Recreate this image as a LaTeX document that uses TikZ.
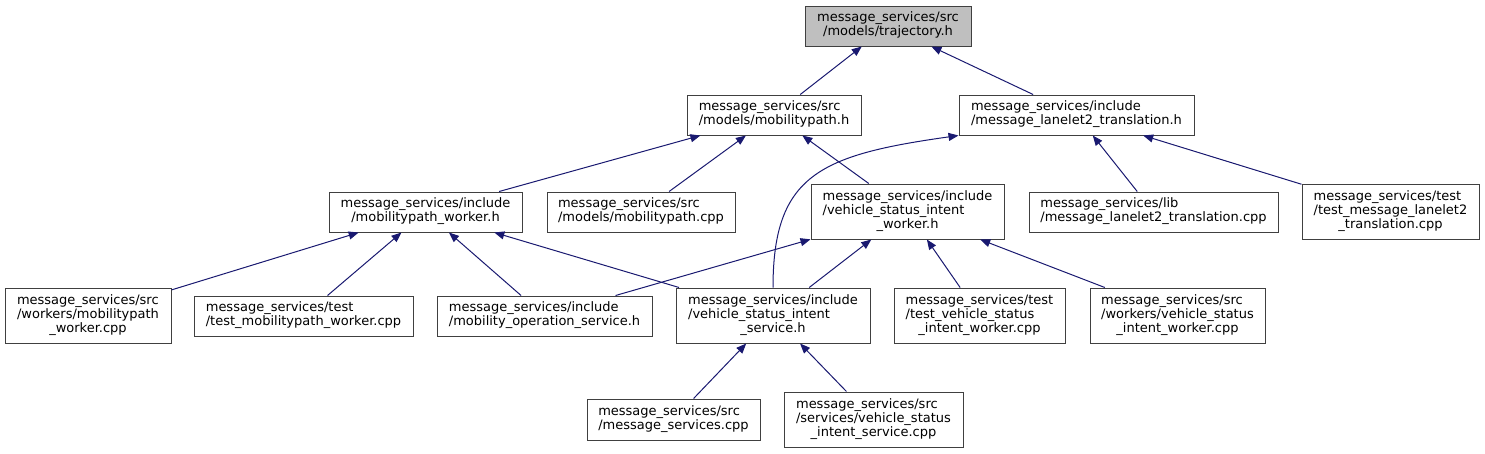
\documentclass[tikz,border=0pt]{standalone}
\usepackage{fontspec}
\setmainfont{DejaVu Sans}
\usetikzlibrary{arrows.meta}
\definecolor{edgeblue}{HTML}{191970}
\definecolor{boxline}{HTML}{404040}
\definecolor{topfill}{HTML}{BFBFBF}
% file labels: first lines left, last line centred
\newcommand{\twoln}[2]{\begin{tabular}{@{}l@{}}#1\\\multicolumn{1}{@{}c@{}}{#2}\end{tabular}}
\newcommand{\threeln}[3]{\begin{tabular}{@{}l@{}}#1\\#2\\\multicolumn{1}{@{}c@{}}{#3}\end{tabular}}
\tikzset{
  file/.style    = {rectangle, draw=boxline, line width=1pt, fill=white,
                    inner sep=0pt, minimum height=40pt,
                    font=\fontsize{13}{14.2}\selectfont},
  filetop/.style = {file, fill=topfill},
  tall/.style    = {minimum height=55pt},
  inc/.style     = {-{Triangle[length=10pt,width=8pt]}, line width=1pt, draw=edgeblue},
}
\begin{document}
\begin{tikzpicture}[x=1pt, y=-1pt]
  \useasboundingbox (0,0) rectangle (1485,453);

  % level 0
  \node[filetop, minimum width=166pt] (n1) at (888,26)
       {\twoln{message\_services/src}{/models/trajectory.h}};

  % level 1
  \node[file, minimum width=174pt] (n2) at (774,115)
       {\twoln{message\_services/src}{/models/mobilitypath.h}};
  \node[file, minimum width=235pt] (n3) at (1076.5,115)
       {\twoln{message\_services/include}{/message\_lanelet2\_translation.h}};

  % level 2
  \node[file, minimum width=193pt] (n4) at (425.5,212)
       {\twoln{message\_services/include}{/mobilitypath\_worker.h}};
  \node[file, minimum width=188pt] (n5) at (641,212)
       {\twoln{message\_services/src}{/models/mobilitypath.cpp}};
  \node[file, tall, minimum width=193pt] (n6) at (907.5,211.5)
       {\threeln{message\_services/include}{/vehicle\_status\_intent}{\_worker.h}};
  \node[file, minimum width=249pt] (n7) at (1153.5,212)
       {\twoln{message\_services/lib}{/message\_lanelet2\_translation.cpp}};
  \node[file, tall, minimum width=177pt] (n8) at (1390.5,211.5)
       {\threeln{message\_services/test}{/test\_message\_lanelet2}{\_translation.cpp}};

  % level 3
  \node[file, tall, minimum width=166pt] (n9) at (88,315.5)
       {\threeln{message\_services/src}{/workers/mobilitypath}{\_worker.cpp}};
  \node[file, minimum width=219pt] (n10) at (303.5,316)
       {\twoln{message\_services/test}{/test\_mobilitypath\_worker.cpp}};
  \node[file, minimum width=215pt] (n11) at (544.5,316)
       {\twoln{message\_services/include}{/mobility\_operation\_service.h}};
  \node[file, tall, minimum width=194pt] (n12) at (773,315.5)
       {\threeln{message\_services/include}{/vehicle\_status\_intent}{\_service.h}};
  \node[file, tall, minimum width=171pt] (n13) at (979.5,315.5)
       {\threeln{message\_services/test}{/test\_vehicle\_status}{\_intent\_worker.cpp}};
  \node[file, tall, minimum width=175pt] (n14) at (1177.5,315.5)
       {\threeln{message\_services/src}{/workers/vehicle\_status}{\_intent\_worker.cpp}};

  % level 4
  \node[file, minimum width=173pt, minimum height=41pt] (n15) at (673.5,419.5)
       {\twoln{message\_services/src}{/message\_services.cpp}};
  \node[file, tall, minimum width=179pt] (n16) at (873.5,419.5)
       {\threeln{message\_services/src}{/services/vehicle\_status}{\_intent\_service.cpp}};

  % includes
  \draw[inc] (n2) -- (n1);
  \draw[inc] (n3) -- (n1);
  \draw[inc] (n4) -- (n2);
  \draw[inc] (n5) -- (n2);
  \draw[inc] (n6) -- (n2);
  \draw[inc] (n12.north) .. controls (773,175) and (820,155) .. (n3.south west);
  \draw[inc] (n7) -- (n3);
  \draw[inc] (n8) -- (n3);
  \draw[inc] (n9) -- (n4);
  \draw[inc] (n10) -- (n4);
  \draw[inc] (n11) -- (n4);
  \draw[inc] (n12) -- (n4);
  \draw[inc] (n11) -- (n6);
  \draw[inc] (n12) -- (n6);
  \draw[inc] (n13) -- (n6);
  \draw[inc] (n14) -- (n6);
  \draw[inc] (n15) -- (n12);
  \draw[inc] (n16) -- (n12);

\end{tikzpicture}
\end{document}
